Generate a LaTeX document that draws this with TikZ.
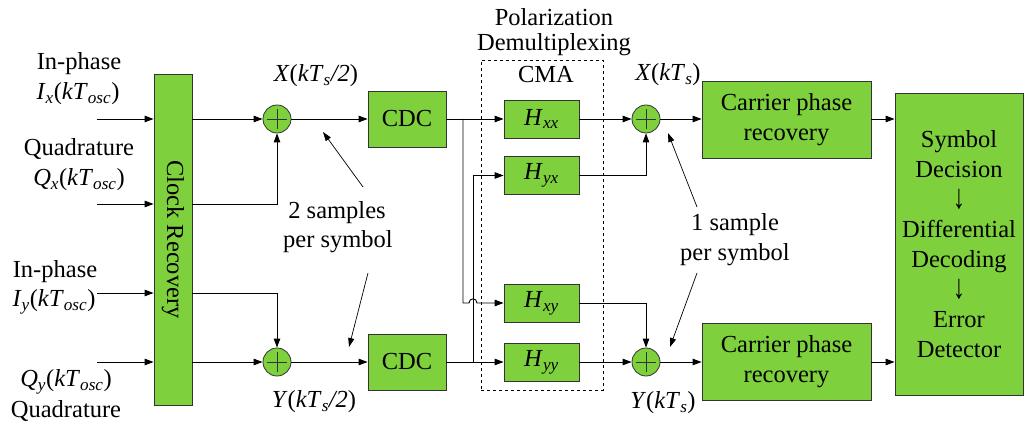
\documentclass[tikz,border=0pt]{standalone}
\usepackage{fontspec}
\usepackage{graphicx}
\setmainfont{Liberation Serif}
\usetikzlibrary{arrows.meta}
\definecolor{gr}{RGB}{126,208,60}
\newcommand\subi[1]{\textsubscript{\textit{#1}}}
\newcommand\darr{\raisebox{-1pt}{\scalebox{1}[1.4]{↓}}}
\begin{document}
\begin{tikzpicture}[x=1pt,y=-1pt, font=\fontsize{24.5}{30}\selectfont,
 box/.style={draw=black!80, fill=gr, line width=0.8pt, inner sep=0pt},
 sumn/.style={circle, draw=black!80, fill=gr, line width=0.8pt, minimum size=28pt, inner sep=0pt,
   path picture={\draw[black!80,line width=0.8pt]
     ([xshift=-10pt]path picture bounding box.center) -- ([xshift=10pt]path picture bounding box.center)
     ([yshift=-10pt]path picture bounding box.center) -- ([yshift=10pt]path picture bounding box.center);}},
 arr/.style={-{Triangle[length=9pt,width=6.5pt]}, line width=0.9pt},
 ann/.style={-{Triangle[length=9pt,width=6pt]}, line width=0.7pt},
 lbl/.style={inner sep=0pt}]
\useasboundingbox (0,0) rectangle (1024,427);

% clock recovery
\node[box, minimum width=38pt, minimum height=331pt] (clk) at (173,239.5) {};
\node[rotate=-90, lbl] (clkt) at (clk.center) {Clock Recovery};

% input labels
\node[lbl] (l1a) at (79,64) {In-phase};
\node[lbl] (l1b) at (78,94) {\textit{I}\subi{x}(\textit{kT}\subi{osc})};
\node[lbl] (l2a) at (79,149) {Quadrature};
\node[lbl] (l2b) at (79,180) {\textit{Q}\subi{x}(\textit{kT}\subi{osc})};
\node[lbl] (l3a) at (55,272) {In-phase};
\node[lbl] (l3b) at (54,302) {\textit{I}\subi{y}(\textit{kT}\subi{osc})};
\node[lbl] (l4a) at (66,382) {\textit{Q}\subi{y}(\textit{kT}\subi{osc})};
\node[lbl] (l4b) at (66,411) {Quadrature};

\coordinate (i1) at (97,119);
\coordinate (i2) at (97,204);
\coordinate (i3) at (97,293);
\coordinate (i4) at (97,362);
\draw[arr] (i1) -- (i1 -| clk.west);
\draw[arr] (i2) -- (i2 -| clk.west);
\draw[arr] (i3) -- (i3 -| clk.west);
\draw[arr] (i4) -- (i4 -| clk.west);

% first adders
\node[sumn] (s1) at (277,119) {};
\node[sumn] (s2) at (277,362) {};
\draw[arr] (s1 -| clk.east) -- (s1.west);
\draw[arr] (i2 -| clk.east) -| (s1.south);
\draw[arr] (i3 -| clk.east) -| (s2.north);
\draw[arr] (s2 -| clk.east) -- (s2.west);

\node[lbl] (xh) at (316,76) {\textit{X}(\textit{kT}\subi{s}\textit{/2})};
\node[lbl] (yh) at (314,402) {\textit{Y}(\textit{kT}\subi{s}\textit{/2})};

% CDC
\node[box, minimum width=78pt, minimum height=56pt] (c1) at (407,119) {CDC};
\node[box, minimum width=78pt, minimum height=56pt] (c2) at (407,362) {CDC};
\draw[arr] (s1.east) -- (c1.west);
\draw[arr] (s2.east) -- (c2.west);

% CMA
\node[draw, dashed, line width=0.8pt, minimum width=122pt, minimum height=330pt, inner sep=0pt] (cma) at (542,225) {};
\node[lbl] (cmat) at (546,75) {CMA};
\node[lbl] (pol) at (554,17) {Polarization};
\node[lbl] (dem) at (554,45) {Demultiplexing};

\node[box, minimum width=75pt, minimum height=38pt] (hxx) at (541.5,119) {\textit{H}\subi{xx}};
\node[box, minimum width=75pt, minimum height=38pt] (hyx) at (541.5,175.5) {\textit{H}\subi{yx}};
\node[box, minimum width=75pt, minimum height=38pt] (hxy) at (541.5,303) {\textit{H}\subi{xy}};
\node[box, minimum width=75pt, minimum height=38pt] (hyy) at (541.5,362) {\textit{H}\subi{yy}};

\coordinate (b1) at (463,119);
\coordinate (b2) at (473,362);
\draw[arr] (c1.east) -- (hxx.west);
\draw[arr] (c2.east) -- (hyy.west);
\draw[arr] (b2) -- (b2 |- hyx) -- (hyx.west);
\draw[arr] (b1) -- (b1 |- hxy) -- (469,303) .. controls (469,297.5) and (477,297.5) .. (477,303) -- (hxy.west);

% second adders
\node[sumn] (s3) at (646,119) {};
\node[sumn] (s4) at (646,362) {};
\draw[arr] (hxx.east) -- (s3.west);
\draw[arr] (hyx.east) -| (s3.south);
\draw[arr] (hxy.east) -| (s4.north);
\draw[arr] (hyy.east) -- (s4.west);

\node[lbl] (xs) at (668,75) {\textit{X}(\textit{kT}\subi{s})};
\node[lbl] (ys) at (663,403) {\textit{Y}(\textit{kT}\subi{s})};

% carrier phase recovery
\node[box, minimum width=169pt, minimum height=77pt, align=center] (p1) at (786.5,119.5) {Carrier phase\\recovery};
\node[box, minimum width=169pt, minimum height=77pt, align=center] (p2) at (786.5,362) {Carrier phase\\recovery};
\draw[arr] (s3.east) -- (s3.east -| p1.west);
\draw[arr] (s4.east) -- (s4.east -| p2.west);

% final
\node[box, minimum width=128pt, minimum height=302pt, align=center] (fin) at (959,244)
 {Symbol\\Decision\\\darr\\Differential\\Decoding\\\darr\\Error\\Detector};
\draw[arr] (p1.east |- s3) -- (s3 -| fin.west);
\draw[arr] (p2.east |- s4) -- (s4 -| fin.west);

% annotations
\node[lbl] (t2a) at (337,213) {2 samples};
\node[lbl] (t2b) at (338,242) {per symbol};
\node[lbl] (t1a) at (735,225) {1 sample};
\node[lbl] (t1b) at (735,255) {per symbol};
\coordinate (a1s) at (363,187); \coordinate (a1e) at (323,132);
\coordinate (a2s) at (368,273); \coordinate (a2e) at (349,347);
\coordinate (a3s) at (697,207); \coordinate (a3e) at (668,133);
\coordinate (a4s) at (697,273); \coordinate (a4e) at (670,347);
\draw[ann] (a1s) -- (a1e);
\draw[ann] (a2s) -- (a2e);
\draw[ann] (a3s) -- (a3e);
\draw[ann] (a4s) -- (a4e);
\end{tikzpicture}
\end{document}
